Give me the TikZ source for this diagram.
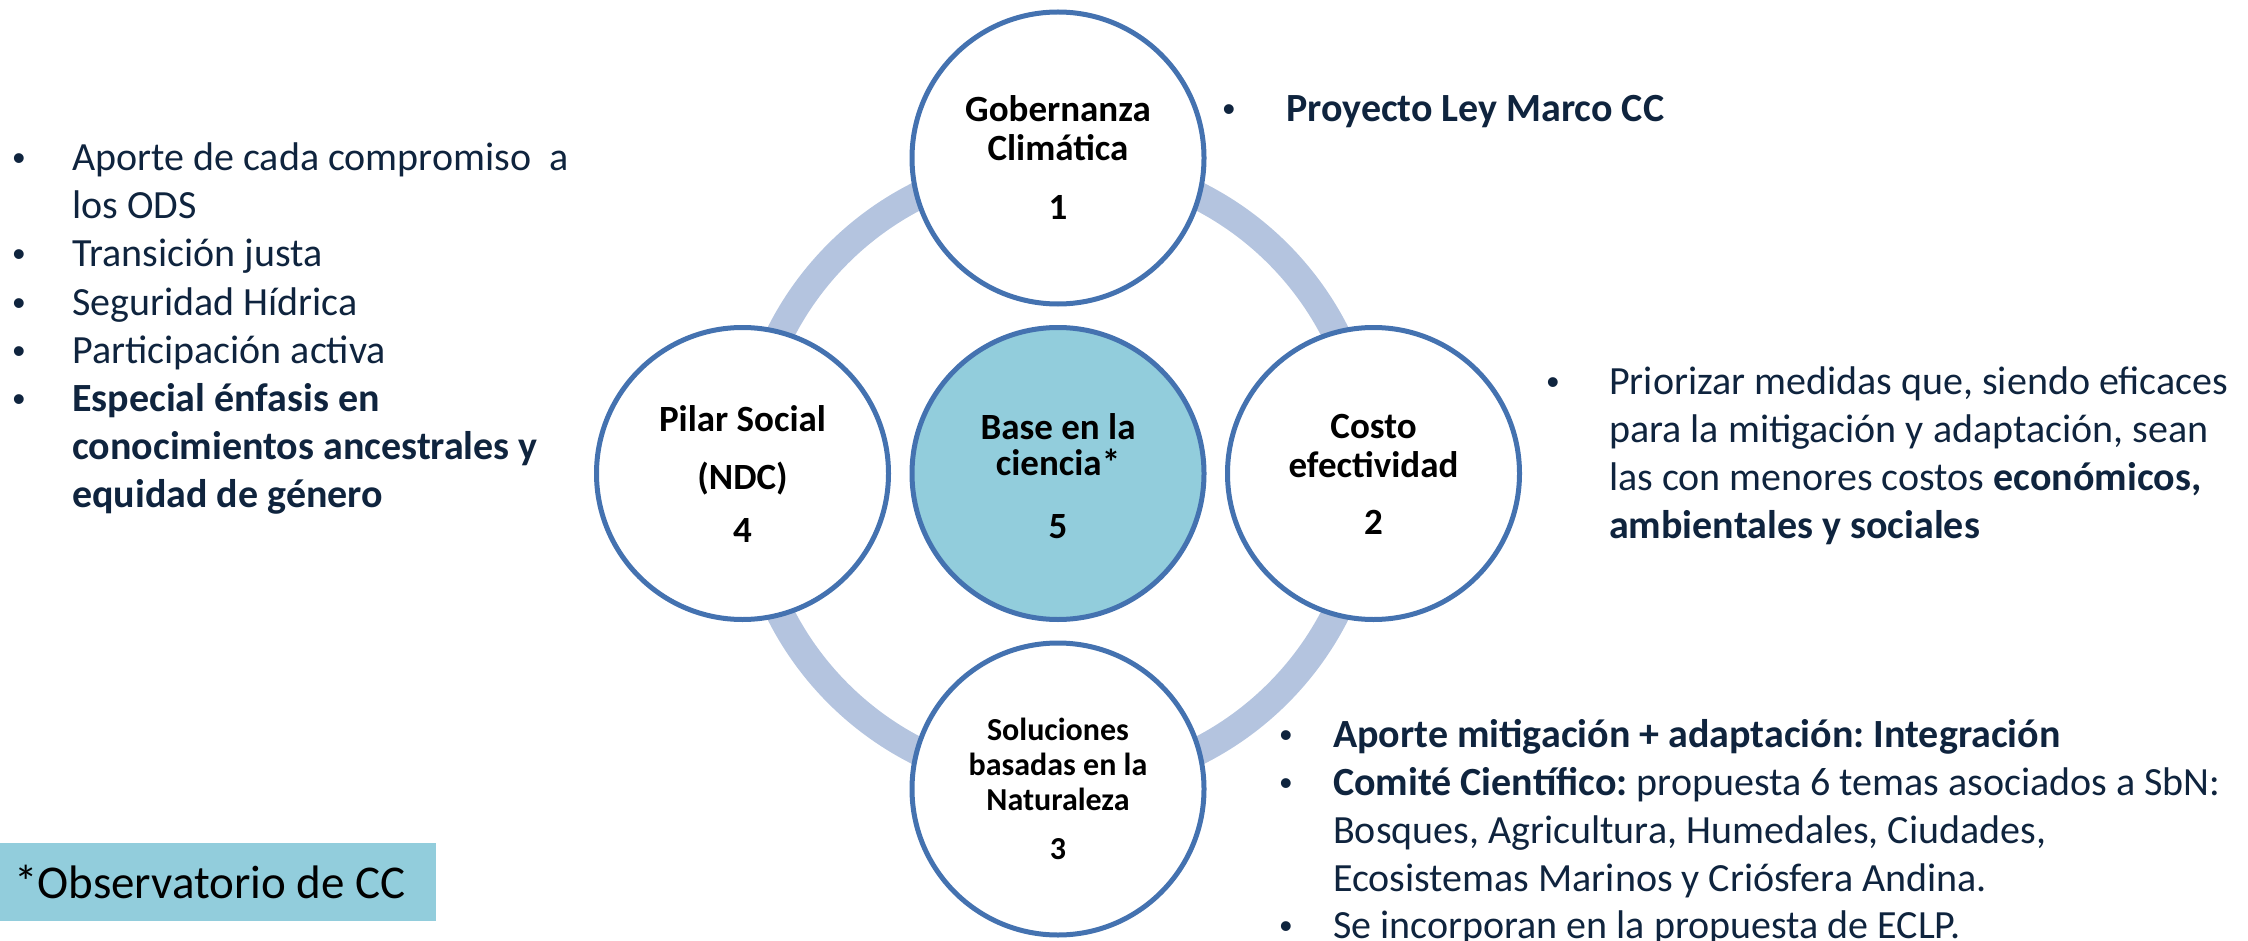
\documentclass[tikz,border=0pt]{standalone}
\usepackage{fontspec}
\setmainfont{Carlito}
\newfontfamily\bulfont{Liberation Sans}
\frenchspacing
\definecolor{cstroke}{RGB}{68,114,176}
\definecolor{ringc}{RGB}{180,196,223}
\definecolor{aqua}{RGB}{146,205,220}
\definecolor{navy}{RGB}{15,36,62}
\tikzset{
  pil/.style={circle, draw=cstroke, line width=5pt, fill=white, minimum size=292pt, inner sep=0pt},
  lab/.style={font=\fontsize{37}{44}\selectfont\bfseries, text=black, inner sep=0pt, anchor=base},
  labs/.style={font=\fontsize{32}{38}\selectfont\bfseries, text=black, inner sep=0pt, anchor=base},
  bul/.style={font=\bulfont\fontsize{36}{48}\selectfont, text=navy, inner sep=0pt, anchor=base},
  txt/.style={font=\fontsize{40}{48}\selectfont, text=navy, inner sep=0pt, anchor=base west},
  ringline/.style={draw=ringc, line width=28pt},
}
\begin{document}
\begin{tikzpicture}[x=1pt,y=-1pt]
\useasboundingbox (0,0) rectangle (2248,941);
% ring
\coordinate (o) at (1058,473.5);
\draw[ringline] (o) circle[radius=311];
% circles
\node[pil] (c1) at (1058,158) {};
\node[pil, fill=aqua] (c5) at (1058,473.5) {};
\node[pil] (c4) at (742.5,473.5) {};
\node[pil] (c2) at (1373.5,473.5) {};
\node[pil] (c3) at (1058,789) {};
% circle labels
\node[lab] (c1a) at (1058,122) {Gobernanza};
\node[lab] (c1b) at (1058,161) {Climática};
\node[lab] (c1n) at (1058,220) {1};
\node[lab] (c5a) at (1058,439) {Base en la};
\node[lab] (c5b) at (1058,475) {ciencia*};
\node[lab] (c5n) at (1058,538) {5};
\node[lab] (c4a) at (742.5,431) {Pilar Social};
\node[lab] (c4b) at (742.5,489) {(NDC)};
\node[lab] (c4n) at (742.5,542) {4};
\node[lab] (c2a) at (1373.5,438) {Costo};
\node[lab] (c2b) at (1373.5,477) {efectividad};
\node[lab] (c2n) at (1373.5,534) {2};
\node[labs] (c3a) at (1058,740) {Soluciones};
\node[labs] (c3b) at (1058,775) {basadas en la};
\node[labs] (c3c) at (1058,810) {Naturaleza};
\node[labs] (c3n) at (1058,859) {3};
% left list
\node[bul] (lb1) at (19,171) {•};
\node[txt] (lt1) at (72,171) {Aporte de cada compromiso\ \ a};
\node[txt] (lt2) at (72,219) {los ODS};
\node[bul] (lb3) at (19,267) {•};
\node[txt] (lt3) at (72,267) {Transición justa};
\node[bul] (lb4) at (19,315) {•};
\node[txt] (lt4) at (72,315) {Seguridad Hídrica};
\node[bul] (lb5) at (19,363) {•};
\node[txt] (lt5) at (72,363) {Participación activa};
\node[bul] (lb6) at (19,411) {•};
\node[txt] (lt6) at (72,411) {\bfseries Especial énfasis en};
\node[txt] (lt7) at (72,459) {\bfseries conocimientos ancestrales y};
\node[txt] (lt8) at (72,507) {\bfseries equidad de género};
% top right
\node[bul] (tb1) at (1229,122) {•};
\node[txt] (tt1) at (1286,122) {\bfseries Proyecto Ley Marco CC};
% right list
\node[bul] (rb1) at (1553,394) {•};
\node[txt] (rt1) at (1609,394) {Priorizar medidas que, siendo eficaces};
\node[txt] (rt2) at (1609,442) {para la mitigación y adaptación, sean};
\node[txt] (rt3) at (1609,490) {las con menores costos \textbf{económicos,}};
\node[txt] (rt4) at (1609,538) {\bfseries ambientales y sociales};
% bottom right list
\node[bul] (bb1) at (1286,747) {•};
\node[txt] (bt1) at (1333,747) {\bfseries Aporte mitigación + adaptación: Integración};
\node[bul] (bb2) at (1286,795) {•};
\node[txt] (bt2) at (1333,795) {\textbf{Comité Científico:} propuesta 6 temas asociados a SbN:};
\node[txt] (bt3) at (1333,843) {Bosques, Agricultura, Humedales, Ciudades,};
\node[txt] (bt4) at (1333,891) {Ecosistemas Marinos y Criósfera Andina.};
\node[bul] (bb5) at (1286,938) {•};
\node[txt] (bt5) at (1333,938) {Se incorporan en la propuesta de ECLP.};
% observatorio box
\node[fill=aqua, anchor=north west, minimum width=436pt, minimum height=78pt, inner sep=0pt] (obs) at (0,843) {};
\node[font=\fontsize{47}{56}\selectfont, text=black, inner sep=0pt, anchor=base west] (obst) at (14,898) {*Observatorio de CC};
\end{tikzpicture}
\end{document}
